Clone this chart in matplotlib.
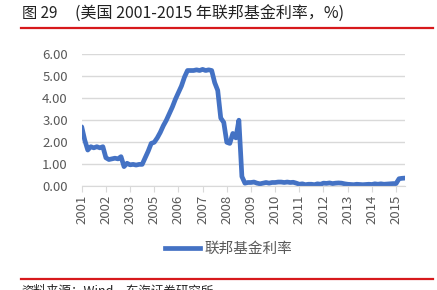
import matplotlib
matplotlib.use("Agg")
import matplotlib.pyplot as plt
from matplotlib.lines import Line2D

plt.rcParams['font.family'] = ['Noto Sans CJK SC', 'DejaVu Sans']

# ---------------------------------------------------------------
# data: effective fed funds rate, one value per 1/8 label step
# ---------------------------------------------------------------
rate = [
    2.70, 2.10, 1.65, 1.80, 1.75, 1.80, 1.75, 1.80,   # 2001
    1.30, 1.22, 1.25, 1.28, 1.25, 1.35, 0.90, 1.05,   # 2002
    0.98, 1.00, 0.97, 1.00, 1.00, 1.30, 1.60, 1.95,   # 2003
    2.00, 2.20, 2.45, 2.75, 3.00, 3.30, 3.60, 3.95,   # 2005
    4.25, 4.55, 4.95, 5.25, 5.25, 5.25, 5.28, 5.25,   # 2006
    5.30, 5.25, 5.28, 5.25, 4.70, 4.35, 3.10, 2.90,   # 2007
    2.00, 1.95, 2.40, 2.20, 3.00, 0.45, 0.15, 0.18,   # 2008
    0.18, 0.20, 0.15, 0.12, 0.15, 0.18, 0.15, 0.18,   # 2009
    0.18, 0.20, 0.20, 0.18, 0.20, 0.18, 0.19, 0.15,   # 2010
    0.10, 0.12, 0.08, 0.10, 0.10, 0.08, 0.12, 0.10,   # 2011
    0.15, 0.14, 0.16, 0.13, 0.15, 0.16, 0.15, 0.12,   # 2012
    0.10, 0.09, 0.08, 0.10, 0.09, 0.08, 0.09, 0.10,   # 2013
    0.09, 0.12, 0.10, 0.12, 0.10, 0.11, 0.12, 0.13,   # 2014
    0.13, 0.35, 0.37, 0.38,                           # 2015
]
tick_labels = ["2001", "2002", "2003", "2005", "2006", "2007", "2008",
               "2009", "2010", "2011", "2012", "2013", "2014", "2015"]
series_name = "联邦基金利率"
fig_no = "图 29"
title = "(美国 2001-2015 年联邦基金利率，%)"
source = "资料来源：Wind，东海证券研究所"

step = 8
blue = "#4472C4"
grey = "#595959"

fig = plt.figure(figsize=(4.37, 2.90), dpi=100)
ax = fig.add_axes([0.187, 0.357, 0.740, 0.457])

ax.plot(range(len(rate)), rate, color=blue, linewidth=3.4,
        solid_joinstyle="round", solid_capstyle="round")

ax.set_xlim(0, len(rate) - 1)
ax.set_ylim(0, 6)
ax.set_yticks([0, 1, 2, 3, 4, 5, 6])
ax.set_yticklabels([f"{v:.2f}" for v in range(7)])
ax.set_xticks([i * step for i in range(len(tick_labels))])
ax.set_xticklabels(tick_labels, rotation=90)

ax.grid(axis="y", color="#D9D9D9", linewidth=1.0)
ax.set_axisbelow(True)
for s in ["top", "right", "left"]:
    ax.spines[s].set_visible(False)
ax.spines["bottom"].set_color("#D9D9D9")
ax.tick_params(axis="y", length=0, labelsize=9.5, labelcolor=grey, pad=10)
ax.tick_params(axis="x", length=4, color="#D9D9D9", labelsize=9.5,
               labelcolor=grey, pad=2)

leg = fig.legend(handles=[Line2D([], [], color=blue, linewidth=3.4)],
                 labels=[series_name], loc="center", bbox_to_anchor=(0.524, 0.141),
                 frameon=False, fontsize=10.5, handlelength=2.4, handletextpad=0.3)
for t in leg.get_texts():
    t.set_color(grey)

# title, red rules, source note
fig.text(0.05, 0.952, fig_no, fontsize=11, color="#222222", va="center")
fig.text(0.172, 0.952, title, fontsize=11.5, color="#222222", va="center")
fig.add_artist(Line2D([0.047, 0.991], [0.903, 0.903], color="#D7191C", linewidth=1.6))
fig.add_artist(Line2D([0.047, 0.991], [0.038, 0.038], color="#D7191C", linewidth=1.6))
fig.text(0.05, 0.02, source, fontsize=9, color="#222222", va="top")

fig.savefig("out.png", dpi=100)
